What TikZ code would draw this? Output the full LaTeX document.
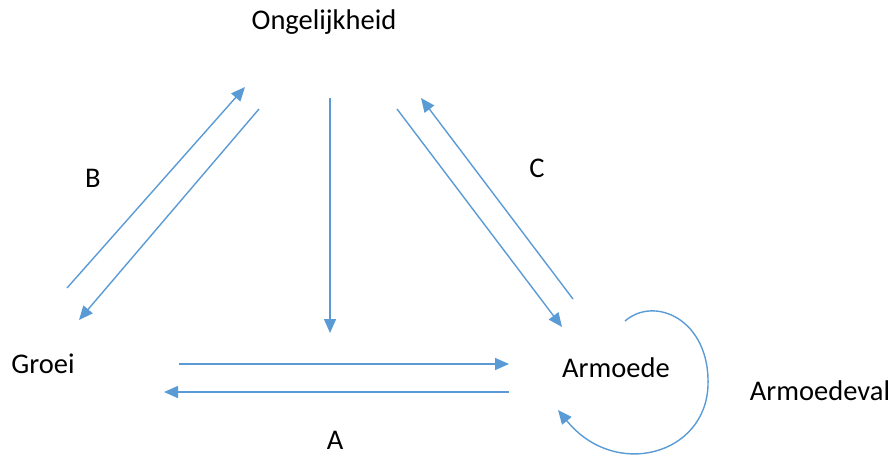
\documentclass[tikz,border=0pt]{standalone}
\usepackage{fontspec}
\setmainfont{Carlito}
\usetikzlibrary{arrows.meta}
\definecolor{lineblue}{RGB}{91,155,213}
\begin{document}
\begin{tikzpicture}[x=1pt,y=-1pt,
  conn/.style={draw=lineblue,line width=1.4pt,-{Triangle[length=14pt,width=12pt]}},
  lbl/.style={font=\fontsize{28.5}{32}\selectfont,inner sep=0pt,anchor=center}]
\useasboundingbox (0,0) rectangle (893,455);
\node[lbl] (ong) at (324,22) {Ongelijkheid};
\node[lbl] (groei) at (43,364) {Groei};
\node[lbl] (arm) at (616,368) {Armoede};
\node[lbl] (val) at (820,391) {Armoedeval};
\node[lbl] (la) at (335,440) {A};
\node[lbl] (lb) at (93,178) {B};
\node[lbl] (lc) at (537,168) {C};
\coordinate (b1s) at (67,288);  \coordinate (b1e) at (245,87);
\coordinate (b2s) at (259,109); \coordinate (b2e) at (79,320);
\coordinate (c1s) at (397,109); \coordinate (c1e) at (562,327);
\coordinate (c2s) at (573,299); \coordinate (c2e) at (421,98);
\coordinate (vs) at (330,98);   \coordinate (ve) at (330,333);
\coordinate (a1s) at (179,364); \coordinate (a1e) at (509,364);
\coordinate (a2s) at (509,392); \coordinate (a2e) at (164,392);
\coordinate (ls) at (625,321);  \coordinate (lm) at (708,385); \coordinate (le) at (558,410);
\draw[conn] (b1s) -- (b1e);
\draw[conn] (b2s) -- (b2e);
\draw[conn] (c1s) -- (c1e);
\draw[conn] (c2s) -- (c2e);
\draw[conn] (vs) -- (ve);
\draw[conn] (a1s) -- (a1e);
\draw[conn] (a2s) -- (a2e);
\draw[conn] (ls) .. controls (655,295) and (710,320) .. (lm) .. controls (706,455) and (615,480) .. (le);
\end{tikzpicture}
\end{document}
